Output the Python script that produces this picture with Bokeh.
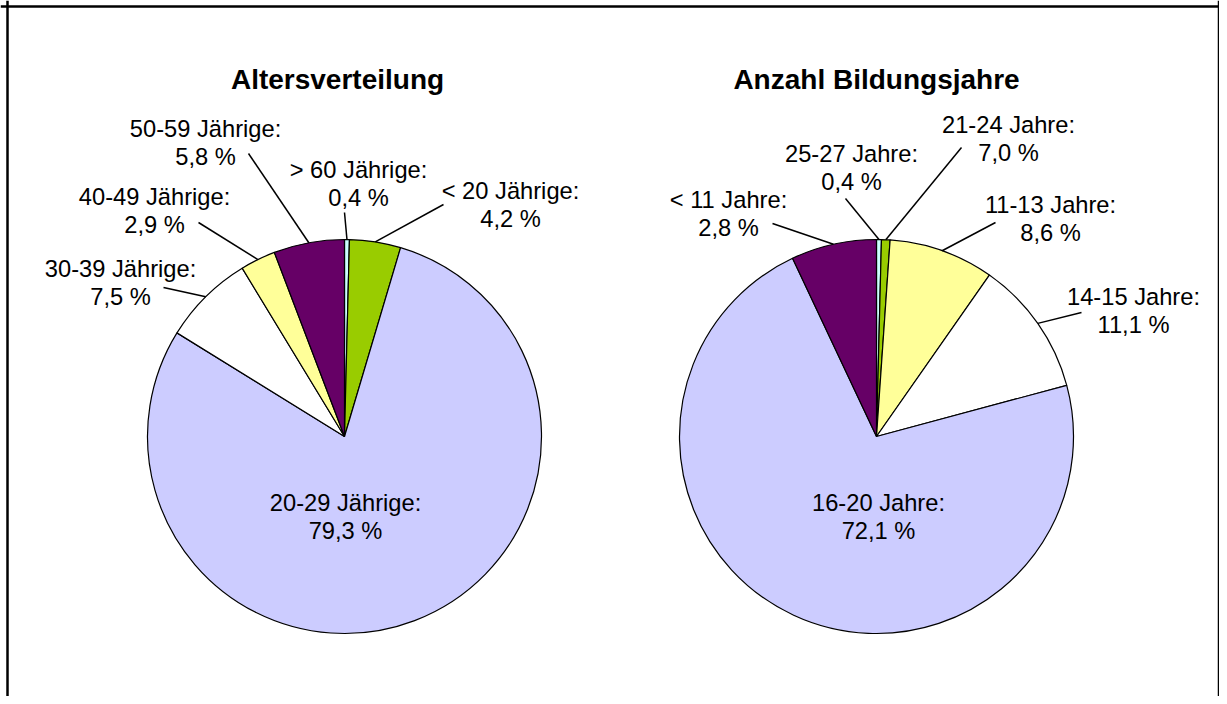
import numpy as np
from bokeh.plotting import figure
from bokeh.models import Range1d, Span, ColumnDataSource
from bokeh.core.properties import value
from bokeh.embed import file_html
from bokeh.resources import INLINE

# ---------------- data ----------------
age_title = "Altersverteilung"
age_names = ["> 60 Jährige:", "< 20 Jährige:", "20-29 Jährige:", "30-39 Jährige:",
             "40-49 Jährige:", "50-59 Jährige:"]
age_values = [0.4, 4.2, 79.3, 7.5, 2.9, 5.8]
age_pct_text = ["0,4 %", "4,2 %", "79,3 %", "7,5 %", "2,9 %", "5,8 %"]

edu_title = "Anzahl Bildungsjahre"
edu_names = ["25-27 Jahre:", "21-24 Jahre:", "11-13 Jahre:", "14-15 Jahre:",
             "16-20 Jahre:", "< 11 Jahre:"]
edu_values = [0.4, 0.7, 8.6, 11.1, 72.1, 7.0]
edu_pct_text = ["0,4 %", "7,0 %", "8,6 %", "11,1 %", "72,1 %", "2,8 %"]

slice_colors = {
    "age": ["#CCFFFF", "#99CC00", "#CCCCFF", "#FFFFFF", "#FFFF99", "#660066"],
    "edu": ["#CCFFFF", "#99CC00", "#FFFF99", "#FFFFFF", "#CCCCFF", "#660066"],
}

# ---------------- layout (picture pixel coords; y is negated) ----------------
R = 197
age_center = (344, 436)
edu_center = (876, 436)
TEXT_SHIFT = -9
title_pos = {"age": (337, 88), "edu": (876, 88)}
# label first-line baseline positions (x center, baseline y)
age_label_pos = [(358, 178), (510, 199), (345, 511), (120, 277), (154, 205), (205, 137)]
edu_label_pos = [(851, 162), (1008, 133), (1050, 213), (1133, 305), (878, 511), (728, 208)]
# label-side end of the leader lines (None = no leader)
age_leader = [(344, 212), (443, 204), None, (163, 287), (198, 222), (248, 153)]
edu_leader = [(845, 198), (961, 147), (995, 222), (1081, 312), None, (772, 223)]
LINE_GAP = 28
FONT = "Liberation Sans"
LABEL_SIZE = "23.7px"

W, H = 1219, 696
p = figure(width=W, height=H, x_range=Range1d(0, W), y_range=Range1d(-H, 0),
           output_backend="svg", toolbar_location=None, min_border=0,
           x_axis_type=None, y_axis_type=None)
p.grid.visible = False
p.outline_line_color = None
p.background_fill_color = "white"
p.border_fill_color = "white"


def draw_pie(key, center, values, names, pcts, label_pos, leaders):
    v = np.array(values, dtype=float)
    frac = v / v.sum()
    cend = np.cumsum(frac)
    cstart = cend - frac
    a0 = np.pi / 2 - 2 * np.pi * cstart
    a1 = np.pi / 2 - 2 * np.pi * cend
    cx, cy = center[0], -center[1]
    src = ColumnDataSource(dict(start=a1, end=a0, color=slice_colors[key]))
    p.wedge(x=cx, y=cy, radius=R, start_angle="start", end_angle="end",
            direction="anticlock", fill_color="color", line_color="black",
            line_width=1.2, source=src)
    # leader lines: from label anchor to slice mid-angle on the rim
    mid = (a0 + a1) / 2
    x0, y0, x1, y1 = [], [], [], []
    for i, lp in enumerate(leaders):
        if lp is None:
            continue
        x0.append(lp[0]); y0.append(-lp[1])
        x1.append(cx + R * np.cos(mid[i])); y1.append(cy + R * np.sin(mid[i]))
    p.segment(x0=x0, y0=y0, x1=x1, y1=y1, line_color="black", line_width=1.5)
    lx = [q[0] for q in label_pos]
    ly = [-(q[1] + TEXT_SHIFT) for q in label_pos]
    ly2 = [-(q[1] + TEXT_SHIFT + LINE_GAP) for q in label_pos]
    p.text(x=lx, y=ly, text=names, text_font=value(FONT), text_font_size=LABEL_SIZE,
           text_align="center", text_baseline="alphabetic", text_color="black")
    p.text(x=lx, y=ly2, text=pcts, text_font=value(FONT), text_font_size=LABEL_SIZE,
           text_align="center", text_baseline="alphabetic", text_color="black")


draw_pie("age", age_center, age_values, age_names, age_pct_text, age_label_pos, age_leader)
draw_pie("edu", edu_center, edu_values, edu_names, edu_pct_text, edu_label_pos, edu_leader)

tx = [title_pos["age"][0], title_pos["edu"][0]]
ty = [-(title_pos["age"][1] + TEXT_SHIFT), -(title_pos["edu"][1] + TEXT_SHIFT)]
p.text(x=tx, y=ty, text=[age_title, edu_title], text_font=value(FONT),
       text_font_size="28px", text_font_style="bold", text_align="center",
       text_baseline="alphabetic", text_color="black")

# frame border (left, top, right)
p.add_layout(Span(location=7, dimension="height", line_color="black", line_width=2.5))
p.add_layout(Span(location=1218.5, dimension="height", line_color="black", line_width=2.5))
p.add_layout(Span(location=-6, dimension="width", line_color="black", line_width=2.5))

open("out.html", "w").write(file_html(p, INLINE))
